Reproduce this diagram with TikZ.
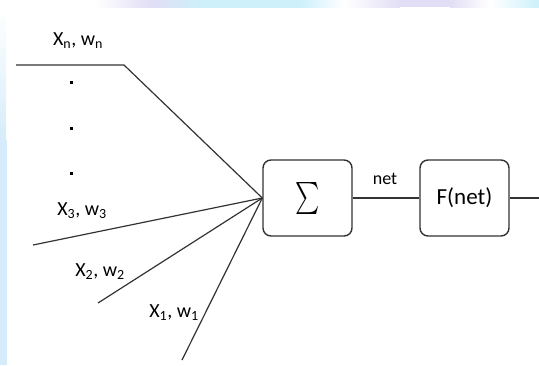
\documentclass[tikz,border=0pt]{standalone}
\usepackage{fontspec}
\setmainfont{Carlito}
\definecolor{ink}{HTML}{333333}
\definecolor{bandblue}{RGB}{214,236,250}
\definecolor{bandcyan}{RGB}{205,240,250}
\definecolor{bandviolet}{RGB}{226,222,245}
\begin{document}
\begin{tikzpicture}[x=1pt,y=-1pt,
  wire/.style={draw=ink,line width=1.2pt},
  unit/.style={draw=ink,line width=1.4pt,rounded corners=8pt,minimum width=89pt,minimum height=76pt,inner sep=0pt,fill=white},
  lab/.style={font=\fontsize{20}{20}\selectfont,inner sep=0pt,text=black},
  dot/.style={fill=black,inner sep=0pt,minimum size=3pt,rectangle}]
\useasboundingbox (0,0) rectangle (539,365);
% soft slide background bands
\shade[left color=white,right color=bandviolet] (95,0) rectangle (150,7);
\shade[left color=bandviolet,right color=bandcyan] (150,0) rectangle (200,7);
\shade[left color=bandcyan,right color=bandcyan] (200,0) rectangle (300,7);
\shade[left color=bandcyan,right color=white] (300,0) rectangle (345,7);
\shade[left color=white,right color=bandviolet] (345,0) rectangle (400,7);
\fill[bandviolet] (400,0) rectangle (450,7);
\shade[left color=bandviolet,right color=white] (450,0) rectangle (490,7);
\shade[left color=white,right color=bandcyan] (490,0) rectangle (539,7);
\shade[top color=white,bottom color=bandblue] (0,7) rectangle (6,140);
\fill[bandblue] (0,140) rectangle (7,365);

% processing units
\node[unit] (sig) at (307.5,198) {\scalebox{2.3}[3.2]{$\sum$}};
\node[unit] (fn) at (464.5,198) {\fontsize{23}{23}\selectfont F(net)};

% input ends
\coordinate (inN) at (16,65);
\coordinate (bend) at (124,65);
\coordinate (in3) at (33,245);
\coordinate (in2) at (98,303);
\coordinate (in1) at (182,360);
\coordinate (out) at (539,198);

\draw[wire] (inN) -- (bend) -- (sig.west);
\draw[wire] (in3) -- (sig.west);
\draw[wire] (in2) -- (sig.west);
\draw[wire] (in1) -- (sig.west);
\draw[wire] (sig.east) -- (fn.west);
\draw[wire] (fn.east) -- (out);

% labels
\node[lab] (ln) at (78,41) {X\textsubscript{n}, w\textsubscript{n}};
\node[lab] (l3) at (82,211) {X\textsubscript{3}, w\textsubscript{3}};
\node[lab] (l2) at (100,272) {X\textsubscript{2}, w\textsubscript{2}};
\node[lab] (l1) at (174,313) {X\textsubscript{1}, w\textsubscript{1}};
\node[lab,font=\fontsize{18}{18}\selectfont] (net) at (385,179) {net};
\node[dot] (d1) at (71,82) {};
\node[dot] (d2) at (71,128) {};
\node[dot] (d3) at (71,173) {};
\end{tikzpicture}
\end{document}
